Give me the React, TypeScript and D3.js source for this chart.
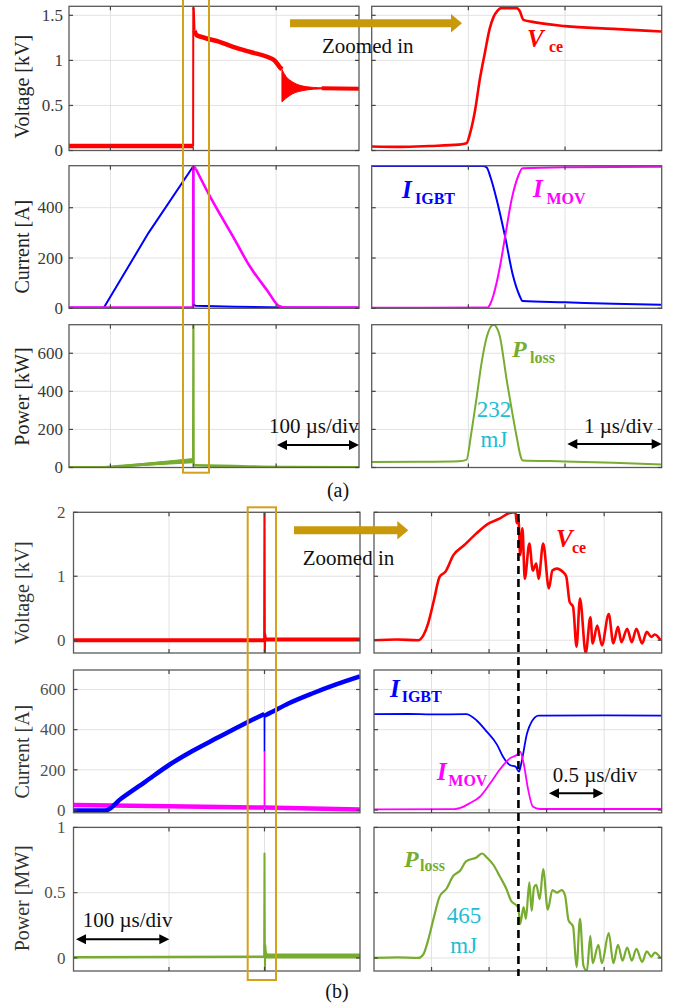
import React from 'react';
import * as d3 from 'd3';

type Pt = [number, number];

// ================= (a) data =================
const aLeftTimeGrid = [0, 100, 200];
const aRightTimeGrid = [1, 2];
const aVoltTicks = [0, 0.5, 1, 1.5];
const aVoltTickLabels = ['0', '0.5', '1', '1.5'];
const aCurrTicks = [0, 200, 400];
const aCurrTickLabels = ['0', '200', '400'];
const aPowTicks = [0, 200, 400, 600];
const aPowTickLabels = ['0', '200', '400', '600'];

// left: time in µs
const aVceBase: Pt[] = [[-50, 0.05], [99.8, 0.05]];
const aVceEdge: Pt[] = [[99.8, 0.05], [100, 1.58], [100.6, 1.58], [101.5, 1.33]];
const aVceClamp: Pt[] = [[101.5, 1.33], [104, 1.28], [110, 1.26], [117, 1.24], [130, 1.21], [148, 1.15], [170, 1.09], [189, 1.04], [198, 1.0], [204, 0.93], [207, 0.9]];
const aVceRingTop: Pt[] = [[207, 0.9], [212, 0.82], [220, 0.76], [230, 0.72], [245, 0.70], [258, 0.695]];
const aVceRingBot: Pt[] = [[207, 0.54], [212, 0.58], [220, 0.63], [230, 0.66], [245, 0.68], [258, 0.685]];
const aVceTail: Pt[] = [[255, 0.69], [300, 0.685]];

const aIgbtRise: Pt[] = [[-50, 2], [-8, 2], [46, 300], [100, 565]];
const aIgbtAfter: Pt[] = [[100, 565], [100.3, 15], [103, 10], [150, 6], [210, 3], [300, 2]];
const aMovEdge: Pt[] = [[-50, 3], [99.8, 3], [100, 565], [103, 555]];
const aMovFall: Pt[] = [[103, 555], [119, 452], [148, 285], [168, 168], [189, 72], [204, 8], [212, 3], [300, 3]];

const aPlossLeftBase: Pt[] = [[-50, 0.5], [-8, 0.5], [100, 36]];
const aPlossBandTop: Pt[] = [[-8, 1], [100, 47]];
const aPlossBandBot: Pt[] = [[-8, 0], [100, 25]];
const aPlossSpike: Pt[] = [[99.6, 40], [100, 752], [100.3, 752], [100.6, 15], [101, 12]];
const aPlossAfter: Pt[] = [[101, 12], [150, 7], [204, 3], [300, 1.5]];

// right: time in µs (zoomed)
const aVceZoom: Pt[] = [[0, 0.045], [0.3, 0.04], [0.6, 0.05], [0.9, 0.065], [0.98, 0.08], [1.02, 0.2], [1.07, 0.45], [1.12, 0.8], [1.17, 1.08], [1.22, 1.35], [1.26, 1.48], [1.3, 1.55], [1.34, 1.58], [1.5, 1.58], [1.53, 1.55], [1.57, 1.45], [1.65, 1.43], [2.0, 1.38], [2.5, 1.35], [3.0, 1.32]];
const aIgbtZoom: Pt[] = [[0, 566], [1.15, 566], [1.19, 560], [1.23, 520], [1.29, 437], [1.38, 285], [1.46, 132], [1.53, 50], [1.56, 29], [2.0, 24], [2.5, 18], [3.0, 14]];
const aMovZoom: Pt[] = [[0, 2], [1.2, 3], [1.23, 20], [1.26, 53], [1.33, 172], [1.38, 285], [1.45, 437], [1.52, 530], [1.56, 557], [2.0, 561], [3.0, 563]];
const aPlossZoom: Pt[] = [[0, 29], [0.5, 30], [0.9, 33], [0.98, 40], [1.03, 180], [1.086, 370], [1.14, 560], [1.19, 685], [1.26, 750], [1.32, 700], [1.397, 458], [1.45, 300], [1.5, 160], [1.54, 60], [1.56, 37], [2.0, 32], [2.5, 25], [3.0, 16]];

// ================= (b) data =================
const bLeftTimeGrid = [100, 200];
const bRightTimeGrid = [0.5, 1, 1.5, 2];
const bVoltTicks = [0, 1, 2];
const bVoltTickLabels = ['0', '1', '2'];
const bCurrTicks = [0, 200, 400, 600];
const bCurrTickLabels = ['0', '200', '400', '600'];
const bPowTicks = [0, 0.5, 1];
const bPowTickLabels = ['0', '0.5', '1'];

const bVceBase: Pt[] = [[0, 0.0], [199.7, 0.0]];
const bVceAfter: Pt[] = [[201.5, 0.01], [300, 0.01]];
const bVceSpike: Pt[] = [[199.7, 0.0], [200, 2.0], [200.3, -0.2], [200.6, 0.1], [201.5, 0.01]];

const bIgbtLeftA: Pt[] = [[0, -3], [33, -3], [50, 57], [75, 140], [100, 224], [125, 295], [150, 358], [175, 420], [199.9, 478]];
const bIgbtLeftB: Pt[] = [[200.1, 470], [202, 474], [225, 530], [250, 580], [275, 625], [300, 665]];
const bIgbtSpike: Pt[] = [[199.9, 478], [200, 290], [200.1, 470]];
const bMovLeftA: Pt[] = [[0, 25], [100, 18], [199.9, 12]];
const bMovLeftB: Pt[] = [[200.1, 12], [300, 3]];
const bMovSpike: Pt[] = [[199.9, 12], [200, 290], [200.1, 12]];

const bPlossLeftA: Pt[] = [[0, 0.005], [199.6, 0.01]];
const bPlossLeftB: Pt[] = [[201, 0.015], [300, 0.015]];
const bPlossSpike: Pt[] = [[199.6, 0.01], [200, 0.8], [200.2, 0.4], [200.5, -0.1], [200.8, 0.1], [201.5, 0.04], [203, 0.02]];

const bVceZoom: Pt[] = [[0, 0.0], [0.2, 0.01], [0.385, 0.0], [0.43, 0.08], [0.47, 0.26], [0.52, 0.62], [0.57, 0.99], [0.62, 1.07], [0.69, 1.33], [0.78, 1.48], [0.89, 1.67], [0.99, 1.82], [1.09, 1.9], [1.18, 1.99], [1.23, 2.0], [1.24, 1.83], [1.255, 1.9], [1.27, 1.33], [1.29, 1.75], [1.31, 0.96], [1.35, 1.51], [1.38, 1.09], [1.41, 1.2], [1.43, 0.96], [1.47, 1.51], [1.52, 0.81], [1.55, 1.09], [1.59, 1.12], [1.64, 1.07], [1.67, 1.0], [1.7, 0.6], [1.73, 0.52], [1.76, -0.1], [1.79, 0.65], [1.84, -0.2], [1.88, 0.36], [1.9, -0.05], [1.94, 0.23], [1.98, -0.08], [2.04, 0.41], [2.08, -0.05], [2.12, 0.21], [2.15, -0.03], [2.2, 0.18], [2.24, -0.03], [2.28, 0.18], [2.33, -0.05], [2.37, 0.13], [2.41, 0.05], [2.44, 0.09], [2.49, 0.0]];
const bIgbtZoom: Pt[] = [[0, 477], [0.3, 478], [0.5, 476], [0.8, 477], [0.89, 447], [0.98, 390], [1.07, 324], [1.12, 266], [1.18, 224], [1.23, 216], [1.26, 191], [1.28, 233], [1.33, 382], [1.37, 440], [1.43, 470], [2.0, 471], [2.5, 470]];
const bMovZoom: Pt[] = [[0, 3], [0.7, 4], [0.75, 10], [0.83, 33], [0.92, 66], [1.01, 133], [1.09, 199], [1.18, 257], [1.24, 274], [1.27, 290], [1.3, 233], [1.34, 100], [1.38, 17], [1.44, 5], [2.5, 5]];
const bPlossZoom: Pt[] = [[0, 0.0], [0.2, 0.005], [0.385, 0.0], [0.43, 0.03], [0.47, 0.135], [0.52, 0.31], [0.57, 0.47], [0.63, 0.53], [0.69, 0.63], [0.75, 0.67], [0.8, 0.74], [0.89, 0.77], [0.94, 0.8], [0.98, 0.77], [1.04, 0.71], [1.09, 0.63], [1.15, 0.53], [1.19, 0.44], [1.24, 0.4], [1.255, 0.38], [1.27, 0.26], [1.3, 0.39], [1.32, 0.3], [1.35, 0.58], [1.37, 0.36], [1.39, 0.54], [1.41, 0.56], [1.44, 0.45], [1.47, 0.68], [1.51, 0.37], [1.55, 0.52], [1.59, 0.5], [1.63, 0.52], [1.66, 0.48], [1.69, 0.29], [1.73, 0.24], [1.76, -0.07], [1.79, 0.3], [1.82, -0.06], [1.85, -0.1], [1.88, 0.17], [1.9, -0.04], [1.95, 0.1], [1.98, -0.04], [2.04, 0.19], [2.08, -0.04], [2.12, 0.1], [2.16, -0.02], [2.2, 0.08], [2.24, -0.02], [2.28, 0.07], [2.33, -0.03], [2.37, 0.05], [2.41, 0.01], [2.44, 0.04], [2.49, 0.0]];
const bDashTime = 1.255;

// ================= styling =================
const RED = '#ff0000';
const BLUE = '#0000ff';
const MAG = '#ff00ff';
const GREEN = '#77ac30';
const CYAN = '#1fbcd3';
const GOLD = '#c9990c';
const BOXGOLD = '#d4a11c';
const SERIF = "'Liberation Serif', 'Times New Roman', Times, 'DejaVu Serif', 'Noto Serif', serif";

interface Series { data: Pt[]; color: string; width: number; smooth?: boolean; }
interface Band { top: Pt[]; bot: Pt[]; color: string; }
interface PanelSpec {
  id: string;
  x0: number; x1: number; y0: number; y1: number;
  xDom: [number, number]; yDom: [number, number];
  xGrid: number[]; yGrid: number[];
  yTickLabels?: string[];
  labelGap?: number;
  tickColor?: string;
  series: Series[];
  bands?: Band[];
}

function Panel({ s }: { s: PanelSpec }) {
  const x = d3.scaleLinear().domain(s.xDom).range([s.x0, s.x1]);
  const y = d3.scaleLinear().domain(s.yDom).range([s.y1, s.y0]);
  const lineLin = d3.line<Pt>().x(d => x(d[0])).y(d => y(d[1]));
  const lineSm = d3.line<Pt>().x(d => x(d[0])).y(d => y(d[1])).curve(d3.curveMonotoneX);
  const area = d3.area<[number, number, number]>().x(d => x(d[0])).y0(d => y(d[2])).y1(d => y(d[1])).curve(d3.curveMonotoneX);
  const tl = 4;
  return (
    <g>
      <defs>
        <clipPath id={`clip-${s.id}`}>
          <rect x={s.x0} y={s.y0} width={s.x1 - s.x0} height={s.y1 - s.y0} />
        </clipPath>
      </defs>
      <rect x={s.x0} y={s.y0} width={s.x1 - s.x0} height={s.y1 - s.y0} fill="#fff" />
      {s.xGrid.map((t, i) => (
        <line key={`gx${i}`} x1={x(t)} x2={x(t)} y1={s.y0} y2={s.y1} stroke="#e2e2e2" strokeWidth={1} />
      ))}
      {s.yGrid.map((v, i) => (
        <line key={`gy${i}`} x1={s.x0} x2={s.x1} y1={y(v)} y2={y(v)} stroke="#e2e2e2" strokeWidth={1} />
      ))}
      <g clipPath={`url(#clip-${s.id})`}>
        {(s.bands || []).map((b, i) => {
          const pts: [number, number, number][] = b.top.map((p, k) => [p[0], p[1], b.bot[k][1]]);
          return <path key={`b${i}`} d={area(pts) || ''} fill={b.color} stroke={b.color} strokeWidth={1} />;
        })}
        {s.series.map((se, i) => (
          <path key={`s${i}`} d={(se.smooth ? lineSm : lineLin)(se.data) || ''} fill="none" stroke={se.color} strokeWidth={se.width} strokeLinejoin="round" strokeLinecap="butt" />
        ))}
      </g>
      <rect x={s.x0} y={s.y0} width={s.x1 - s.x0} height={s.y1 - s.y0} fill="none" stroke="#5a5a5a" strokeWidth={1.3} />
      {s.xGrid.map((t, i) => (
        <g key={`tx${i}`}>
          <line x1={x(t)} x2={x(t)} y1={s.y1} y2={s.y1 - tl} stroke="#444" strokeWidth={1.2} />
          <line x1={x(t)} x2={x(t)} y1={s.y0} y2={s.y0 + tl} stroke="#444" strokeWidth={1.2} />
        </g>
      ))}
      {s.yGrid.map((v, i) => (
        <g key={`ty${i}`}>
          <line x1={s.x0} x2={s.x0 + tl} y1={y(v)} y2={y(v)} stroke="#444" strokeWidth={1.2} />
          <line x1={s.x1} x2={s.x1 - tl} y1={y(v)} y2={y(v)} stroke="#444" strokeWidth={1.2} />
        </g>
      ))}
      {s.yTickLabels && s.yGrid.map((v, i) => (
        <text key={`tl${i}`} x={s.x0 - (s.labelGap ?? 6)} y={y(v)} dy="0.34em" textAnchor="end"
          style={{ fontFamily: SERIF }} fontSize={17} fill={s.tickColor || '#3a3a3a'}>{s.yTickLabels![i]}</text>
      ))}
    </g>
  );
}

function YLabel({ x, y, text, color }: { x: number; y: number; text: string; color?: string }) {
  return (
    <text transform={`translate(${x},${y}) rotate(-90)`} textAnchor="middle" style={{ fontFamily: SERIF }} fontSize={20} fill={color || '#222'}>{text}</text>
  );
}

function DoubleArrow({ x1, x2, y }: { x1: number; x2: number; y: number }) {
  const hl = 10, hw = 5;
  return (
    <g>
      <line x1={x1 + hl - 1} x2={x2 - hl + 1} y1={y} y2={y} stroke="#000" strokeWidth={2} />
      <path d={`M${x1},${y} L${x1 + hl},${y - hw} L${x1 + hl},${y + hw} Z`} fill="#000" />
      <path d={`M${x2},${y} L${x2 - hl},${y - hw} L${x2 - hl},${y + hw} Z`} fill="#000" />
    </g>
  );
}

function GoldArrow({ x1, x2, y }: { x1: number; x2: number; y: number }) {
  const hl = 11, hw = 9.3, bw = 4;
  return (
    <path d={`M${x1},${y - bw} L${x2 - hl},${y - bw} L${x2 - hl},${y - hw} L${x2},${y} L${x2 - hl},${y + hw} L${x2 - hl},${y + bw} L${x1},${y + bw} Z`} fill={GOLD} />
  );
}

function Sub({ x, y, main, sub, color, subDx, subDy, mainSize }: { x: number; y: number; main: string; sub: string; color: string; subDx: number; subDy: number; mainSize?: number }) {
  return (
    <g fill={color} style={{ fontFamily: SERIF }} fontWeight="bold">
      <text x={x} y={y} fontStyle="italic" fontSize={mainSize || 25}>{main}</text>
      <text x={x + subDx} y={y + subDy} fontSize={16}>{sub}</text>
    </g>
  );
}

function T({ x, y, size, fill, anchor, children }: { x: number; y: number; size: number; fill: string; anchor?: string; children: React.ReactNode }) {
  return <text x={x} y={y} textAnchor={anchor || 'start'} style={{ fontFamily: SERIF }} fontSize={size} fill={fill}>{children}</text>;
}

export default function App() {
  // (a) geometry
  const aL = { x0: 69, x1: 359 };
  const aR = { x0: 371.7, x1: 661.7 };
  const aV = { y0: 6.3, y1: 150.5 };
  const aI = { y0: 165.7, y1: 308.3 };
  const aP = { y0: 324.7, y1: 467.5 };
  // (b) geometry
  const bL = { x0: 73.5, x1: 360 };
  const bR = { x0: 374, x1: 661.7 };
  const bV = { y0: 512.3, y1: 653 };
  const bI = { y0: 670, y1: 812.8 };
  const bP = { y0: 827.4, y1: 971 };

  const panels: PanelSpec[] = [
    { id: 'aLV', ...aL, ...aV, xDom: [-50, 300], yDom: [0, 1.6], xGrid: aLeftTimeGrid, yGrid: aVoltTicks, yTickLabels: aVoltTickLabels,
      bands: [{ top: aVceRingTop, bot: aVceRingBot, color: RED }],
      series: [
        { data: aVceBase, color: RED, width: 4.5 },
        { data: aVceEdge, color: RED, width: 2 },
        { data: aVceClamp, color: RED, width: 4.5, smooth: true },
        { data: aVceTail, color: RED, width: 4 },
      ] },
    { id: 'aLI', ...aL, ...aI, xDom: [-50, 300], yDom: [0, 567], xGrid: aLeftTimeGrid, yGrid: aCurrTicks, yTickLabels: aCurrTickLabels,
      series: [
        { data: aIgbtRise, color: BLUE, width: 2 },
        { data: aIgbtAfter, color: BLUE, width: 2 },
        { data: aMovEdge, color: MAG, width: 2.6 },
        { data: aMovFall, color: MAG, width: 2.6, smooth: true },
      ] },
    { id: 'aLP', ...aL, ...aP, xDom: [-50, 300], yDom: [0, 750], xGrid: aLeftTimeGrid, yGrid: aPowTicks, yTickLabels: aPowTickLabels,
      bands: [{ top: aPlossBandTop, bot: aPlossBandBot, color: GREEN }],
      series: [
        { data: aPlossLeftBase, color: GREEN, width: 3 },
        { data: aPlossSpike, color: GREEN, width: 2 },
        { data: aPlossAfter, color: GREEN, width: 2.6, smooth: true },
      ] },
    { id: 'aRV', ...aR, ...aV, xDom: [0, 3], yDom: [0, 1.6], xGrid: aRightTimeGrid, yGrid: aVoltTicks,
      series: [{ data: aVceZoom, color: RED, width: 2.6, smooth: true }] },
    { id: 'aRI', ...aR, ...aI, xDom: [0, 3], yDom: [0, 567], xGrid: aRightTimeGrid, yGrid: aCurrTicks,
      series: [
        { data: aIgbtZoom, color: BLUE, width: 2, smooth: true },
        { data: aMovZoom, color: MAG, width: 2, smooth: true },
      ] },
    { id: 'aRP', ...aR, ...aP, xDom: [0, 3], yDom: [0, 750], xGrid: aRightTimeGrid, yGrid: aPowTicks,
      series: [{ data: aPlossZoom, color: GREEN, width: 2, smooth: true }] },

    { id: 'bLV', ...bL, ...bV, xDom: [0, 300], yDom: [-0.2, 2], xGrid: bLeftTimeGrid, yGrid: bVoltTicks, yTickLabels: bVoltTickLabels, labelGap: 8, tickColor: '#505050',
      series: [
        { data: bVceBase, color: RED, width: 4 },
        { data: bVceAfter, color: RED, width: 4 },
        { data: bVceSpike, color: RED, width: 2.2 },
      ] },
    { id: 'bLI', ...bL, ...bI, xDom: [0, 300], yDom: [-14, 697], xGrid: bLeftTimeGrid, yGrid: bCurrTicks, yTickLabels: bCurrTickLabels, labelGap: 8, tickColor: '#505050',
      series: [
        { data: bMovLeftA, color: MAG, width: 4.5 },
        { data: bMovLeftB, color: MAG, width: 4.5 },
        { data: bIgbtLeftA, color: BLUE, width: 4.5, smooth: true },
        { data: bIgbtLeftB, color: BLUE, width: 4.5, smooth: true },
        { data: bIgbtSpike, color: BLUE, width: 1.6 },
        { data: bMovSpike, color: MAG, width: 1.6 },
      ] },
    { id: 'bLP', ...bL, ...bP, xDom: [0, 300], yDom: [-0.1, 1], xGrid: bLeftTimeGrid, yGrid: bPowTicks, yTickLabels: bPowTickLabels, labelGap: 8, tickColor: '#505050',
      series: [
        { data: bPlossLeftA, color: GREEN, width: 2.5 },
        { data: bPlossLeftB, color: GREEN, width: 5 },
        { data: bPlossSpike, color: GREEN, width: 2 },
      ] },
    { id: 'bRV', ...bR, ...bV, xDom: [0, 2.5], yDom: [-0.2, 2], xGrid: bRightTimeGrid, yGrid: bVoltTicks,
      series: [{ data: bVceZoom, color: RED, width: 2.6, smooth: true }] },
    { id: 'bRI', ...bR, ...bI, xDom: [0, 2.5], yDom: [-14, 697], xGrid: bRightTimeGrid, yGrid: bCurrTicks,
      series: [
        { data: bIgbtZoom, color: BLUE, width: 1.8, smooth: true },
        { data: bMovZoom, color: MAG, width: 1.8, smooth: true },
      ] },
    { id: 'bRP', ...bR, ...bP, xDom: [0, 2.5], yDom: [-0.1, 1], xGrid: bRightTimeGrid, yGrid: bPowTicks,
      series: [{ data: bPlossZoom, color: GREEN, width: 2.2, smooth: true }] },
  ];

  const bxr = d3.scaleLinear().domain([0, 2.5]).range([bR.x0, bR.x1]);
  const dashX = bxr(bDashTime);

  return (
    <div style={{ position: 'absolute', left: 0, top: 0 }}>
      <svg width={683} height={1004} style={{ display: 'block', background: '#fff' }}>
        <rect x={0} y={0} width={683} height={1004} fill="#fff" />
        {panels.map(p => <Panel key={p.id} s={p} />)}

        {/* y labels */}
        <YLabel x={28.5} y={86.7} text="Voltage [kV]" />
        <YLabel x={28.5} y={246.7} text="Current [A]" />
        <YLabel x={28.5} y={396.5} text="Power [kW]" />
        <YLabel x={28.5} y={593} text="Voltage [kV]" color="#333" />
        <YLabel x={28.5} y={751.7} text="Current [A]" color="#333" />
        <YLabel x={28.5} y={898.3} text="Power [MW]" color="#333" />

        {/* (a) annotations */}
        <rect x={183} y={-5} width={26} height={477.7} fill="none" stroke={BOXGOLD} strokeWidth={2} />
        <GoldArrow x1={290} x2={462} y={23.3} />
        <T x={322} y={52.5} size={21} fill="#111">Zoomed in</T>
        <Sub x={527} y={46.5} main="V" sub="ce" color={RED} subDx={22} subDy={5.5} />
        <Sub x={402} y={198} main="I" sub="IGBT" color={BLUE} subDx={13} subDy={6} />
        <Sub x={533} y={197} main="I" sub="MOV" color={MAG} subDx={13.5} subDy={6.5} />
        <Sub x={512} y={357} main="P" sub="loss" color={GREEN} subDx={18} subDy={6} mainSize={24} />
        <T x={494} y={417} size={23} fill={CYAN} anchor="middle">232</T>
        <T x={494} y={446.7} size={23} fill={CYAN} anchor="middle">mJ</T>
        <T x={269} y={433.3} size={21} fill="#111">100 µs/div</T>
        <DoubleArrow x1={277} x2={359} y={445} />
        <T x={584} y={432.7} size={21} fill="#111">1 µs/div</T>
        <DoubleArrow x1={567.3} x2={661.7} y={444} />
        <T x={338} y={497} size={20} fill="#111" anchor="middle">(a)</T>

        {/* (b) annotations */}
        <rect x={247.7} y={507.3} width={28.3} height={472.7} fill="none" stroke={BOXGOLD} strokeWidth={2} />
        <GoldArrow x1={294} x2={408.3} y={530.3} />
        <T x={302.7} y={565} size={21} fill="#111">Zoomed in</T>
        <line x1={dashX} x2={dashX} y1={514} y2={976} stroke="#000" strokeWidth={2.6} strokeDasharray="8 5" />
        <Sub x={556} y={546.7} main="V" sub="ce" color={RED} subDx={16} subDy={6} />
        <Sub x={390} y={696.7} main="I" sub="IGBT" color={BLUE} subDx={11.7} subDy={5} />
        <Sub x={437} y={780} main="I" sub="MOV" color={MAG} subDx={11.3} subDy={6} />
        <Sub x={404} y={866.7} main="P" sub="loss" color={GREEN} subDx={16} subDy={4.5} mainSize={24} />
        <T x={464} y={923.3} size={23} fill={CYAN} anchor="middle">465</T>
        <T x={463.7} y={953.3} size={23} fill={CYAN} anchor="middle">mJ</T>
        <T x={552.7} y={781.7} size={21} fill="#111">0.5 µs/div</T>
        <DoubleArrow x1={549} x2={603.3} y={793.3} />
        <T x={82.7} y={926.7} size={21} fill="#111">100 µs/div</T>
        <DoubleArrow x1={76} x2={169.3} y={939.3} />
        <T x={337} y={998} size={20} fill="#111" anchor="middle">(b)</T>
      </svg>
    </div>
  );
}
